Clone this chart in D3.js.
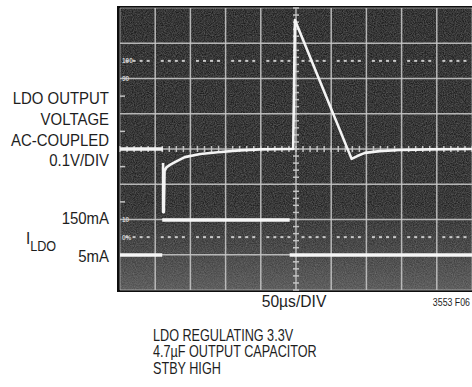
<!DOCTYPE html>
<html>
<head>
<meta charset="utf-8">
<script src="https://cdn.jsdelivr.net/npm/d3@7"></script>
<style>
  body { margin: 0; background: #fff; }
  svg { display: block; }
  text { font-family: "Liberation Sans", Arial, Helvetica, sans-serif; }
</style>
</head>
<body>
<div id="chart"></div>
<script>
// scope graticule: 10 x 50us, 8 x 0.1V
var timeDivs = [0, 50, 100, 150, 200, 250, 300, 350, 400, 450, 500];
var voltDivs = [-400, -300, -200, -100, 0, 100, 200, 300, 400];
var halfDivs = [-150, -50, 50, 150];

// LDO output voltage, AC coupled (us, mV) - fast edges partly invisible on the scope
var voltageSegments = [
  [[0, 0], [61, 0]],
  [[61.2, -40], [61.2, -179], [62.3, -179], [63.3, -62], [66, -52],
   [71, -45], [78, -37], [92, -23], [114, -14], [139, -9], [170, -4],
   [199, -1], [241, 0], [246, 0], [248.5, 366], [329, -28], [337, -20],
   [348, -11], [369, -6], [398, -3], [440, -1], [500, 0]]
];

// load current (us, mA)
var currentSegments = [
  [[0, 5], [60, 5]],
  [[60, 150], [241, 150]],
  [[241, 5], [500, 5]]
];

var dottedLevels = [250, -250];
var refLabels = [
  {v: 250, text: "100"}, {v: 200, text: "90"},
  {v: -200, text: "10"}, {v: -250, text: "0%"}
];

var sideLabels = ["LDO OUTPUT", "VOLTAGE", "AC-COUPLED", "0.1V/DIV"];
var currentLabels = ["150mA", "5mA"];
var timeLabel = "50\u00b5s/DIV";
var figLabel = "3553 F06";
var footLines = ["LDO REGULATING 3.3V", "4.7\u00b5F OUTPUT CAPACITOR", "STBY HIGH"];

var W = 472, H = 387;
var svg = d3.select("#chart").append("svg")
  .attr("width", W)
  .attr("height", H);

var x = d3.scaleLinear().domain([0, 500]).range([120, 472]);
var yV = d3.scaleLinear().domain([-400, 400]).range([290, 8]);
var yI = d3.scaleLinear().domain([5, 150]).range([255, 220]);

var defs = svg.append("defs");
var grad = defs.append("linearGradient").attr("id", "glow")
  .attr("x1", 0).attr("y1", 0).attr("x2", 0).attr("y2", 1);
grad.append("stop").attr("offset", "0%").attr("stop-color", "#777").attr("stop-opacity", 0);
grad.append("stop").attr("offset", "70%").attr("stop-color", "#777").attr("stop-opacity", 0.05);
grad.append("stop").attr("offset", "100%").attr("stop-color", "#888").attr("stop-opacity", 0.5);

var noise = defs.append("filter").attr("id", "noise")
  .attr("x", 0).attr("y", 0).attr("width", "100%").attr("height", "100%");
noise.append("feTurbulence").attr("type", "fractalNoise")
  .attr("baseFrequency", 0.9).attr("numOctaves", 2).attr("seed", 3);
noise.append("feColorMatrix").attr("type", "matrix")
  .attr("values", "0 0 0 0 1  0 0 0 0 1  0 0 0 0 1  0 0 0 0.4 -0.08");

// screen
svg.append("rect")
  .attr("x", x(0) - 3).attr("y", yV(400) - 2)
  .attr("width", W - x(0) + 3).attr("height", yV(-400) - yV(400) + 4)
  .attr("fill", "#0e0e0e");
svg.append("rect")
  .attr("x", x(0)).attr("y", yV(400))
  .attr("width", x(500) - x(0)).attr("height", yV(-400) - yV(400))
  .attr("fill", "#1b1b1b");
svg.append("rect")
  .attr("x", x(0)).attr("y", yV(400))
  .attr("width", x(500) - x(0)).attr("height", yV(-400) - yV(400))
  .attr("filter", "url(#noise)");
svg.append("rect")
  .attr("x", x(0)).attr("y", yV(400))
  .attr("width", x(500) - x(0)).attr("height", yV(-400) - yV(400))
  .attr("fill", "url(#glow)");

var grid = svg.append("g")
  .attr("stroke", "#c4c4c4")
  .attr("stroke-width", 1.5);

grid.selectAll("line.v")
  .data(timeDivs)
  .enter().append("line")
  .attr("class", "v")
  .attr("x1", d => x(d)).attr("x2", d => x(d))
  .attr("y1", yV(400)).attr("y2", yV(-400))
  .attr("stroke-opacity", d => (d == 0 || d == 500) ? 0.45 : 0.9);

grid.selectAll("line.h")
  .data(voltDivs)
  .enter().append("line")
  .attr("class", "h")
  .attr("x1", x(0)).attr("x2", x(500))
  .attr("y1", d => yV(d)).attr("y2", d => yV(d))
  .attr("stroke-opacity", d => (d == -400 || d == 400) ? 0.45 : 0.9);

// minor ticks on the centre lines
var minorT = d3.range(0, 501, 10);
var minorV = d3.range(-400, 401, 20);
grid.selectAll("line.mt")
  .data(minorT)
  .enter().append("line")
  .attr("class", "mt")
  .attr("x1", d => x(d)).attr("x2", d => x(d))
  .attr("y1", yV(0) - 3).attr("y2", yV(0) + 3);
grid.selectAll("line.mv")
  .data(minorV)
  .enter().append("line")
  .attr("class", "mv")
  .attr("x1", x(250) - 3).attr("x2", x(250) + 3)
  .attr("y1", d => yV(d)).attr("y2", d => yV(d));

// half division marks on the left edge
grid.selectAll("line.hd")
  .data(halfDivs)
  .enter().append("line")
  .attr("class", "hd")
  .attr("x1", x(0)).attr("x2", x(0) + 5)
  .attr("y1", d => yV(d)).attr("y2", d => yV(d));

// dotted 0% / 100% lines
dottedLevels.forEach(function(lv) {
  svg.append("g").selectAll("rect")
    .data(minorT.filter(t => t % 50 != 0))
    .enter().append("rect")
    .attr("x", d => x(d) - 1.5)
    .attr("y", yV(lv) - 1)
    .attr("width", 3).attr("height", 2)
    .attr("fill", "#c8c8c8");
});

svg.selectAll("text.ref")
  .data(refLabels)
  .enter().append("text")
  .attr("class", "ref")
  .attr("x", x(0) + 2)
  .attr("y", d => yV(d.v) + 2.5)
  .attr("font-size", 6.5)
  .attr("font-weight", "bold")
  .attr("fill", "#d0d0d0")
  .text(d => d.text);

// traces
var line = d3.line()
  .x(d => x(d[0]));

svg.append("g").selectAll("path")
  .data(currentSegments)
  .enter().append("path")
  .attr("d", line.y(d => yI(d[1])))
  .attr("fill", "none")
  .attr("stroke", "#f6f6f6")
  .attr("stroke-width", 3.4);

svg.append("g").selectAll("path")
  .data(voltageSegments)
  .enter().append("path")
  .attr("d", d3.line().x(d => x(d[0])).y(d => yV(d[1])))
  .attr("fill", "none")
  .attr("stroke", "#f4f4f4")
  .attr("stroke-width", (d, i) => i == 0 ? 3.4 : 2.6)
  .attr("stroke-linejoin", "round");

// labels
var side = svg.append("g")
  .attr("transform", "translate(109,0) scale(0.88,1)");
side.selectAll("text")
  .data(sideLabels)
  .enter().append("text")
  .attr("x", 0)
  .attr("y", (d, i) => 104 + i * 20.8)
  .attr("text-anchor", "end")
  .attr("font-size", 17)
  .attr("fill", "#1e1e1e")
  .text(d => d);

side.selectAll("text.cur")
  .data(currentLabels)
  .enter().append("text")
  .attr("class", "cur")
  .attr("x", 0)
  .attr("y", (d, i) => i == 0 ? yI(150) + 4 : yI(5) + 7)
  .attr("text-anchor", "end")
  .attr("font-size", 17)
  .attr("fill", "#1e1e1e")
  .text(d => d);

var iLab = svg.append("text")
  .attr("transform", "translate(26,244) scale(0.9,1)")
  .attr("font-size", 17)
  .attr("fill", "#1e1e1e");
iLab.append("tspan").text("I");
iLab.append("tspan").attr("dy", 7).attr("font-size", 14).text("LDO");

svg.append("text")
  .attr("transform", "translate(294,307) scale(0.92,1)")
  .attr("text-anchor", "middle")
  .attr("font-size", 17)
  .attr("fill", "#1e1e1e")
  .text(timeLabel);

svg.append("text")
  .attr("transform", "translate(470,306) scale(0.88,1)")
  .attr("text-anchor", "end")
  .attr("font-size", 10)
  .attr("fill", "#1e1e1e")
  .text(figLabel);

svg.append("g")
  .attr("transform", "translate(153,0) scale(0.78,1)")
  .selectAll("text")
  .data(footLines)
  .enter().append("text")
  .attr("x", 0)
  .attr("y", (d, i) => 341 + i * 16.3)
  .attr("font-size", 16.2)
  .attr("fill", "#1e1e1e")
  .text(d => d);
</script>
</body>
</html>
